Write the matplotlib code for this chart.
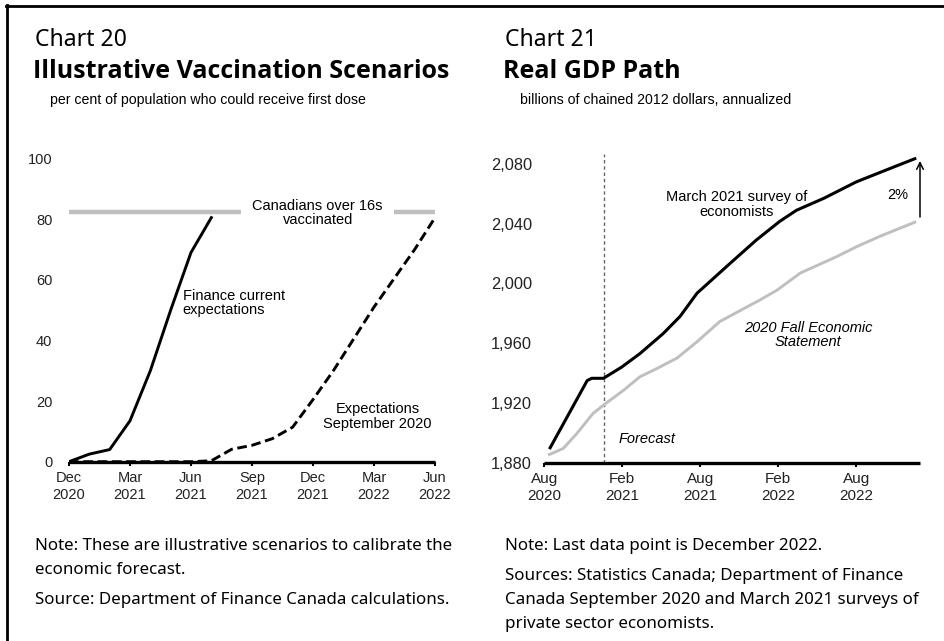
import matplotlib.pyplot as plt
from matplotlib.lines import Line2D

# ---- data: chart 20 (months from Dec 2020) ----
vac_months = [0, 1, 2, 3, 4, 5, 6, 7]
vac_finance = [0, 2.5, 4, 13.5, 30, 50, 69, 80.5]

sep_months = [0, 1, 2, 3, 4, 5, 6, 7, 8, 9, 10, 11, 12, 13, 14, 15, 16, 17, 18]
sep_expect = [0, 0, 0, 0, 0, 0, 0, 0.3, 4.1, 5.4, 7.6, 11.4, 20.5, 30, 40.5, 51, 60.5, 70, 80.5]

target_pct = 82.3
vac_ticks = [0, 3, 6, 9, 12, 15, 18]
vac_ticklabels = ['Dec\n2020', 'Mar\n2021', 'Jun\n2021', 'Sep\n2021',
                  'Dec\n2021', 'Mar\n2022', 'Jun\n2022']

# ---- data: chart 21 (months from Aug 2020) ----
mar_months = [0.45, 3.3, 3.65, 4.55, 5.95, 7.35, 9.15, 10.45, 11.75, 14.3,
              16.3, 18.1, 19.4, 21.5, 24.0, 26.6, 28.5]
mar_gdp = [1890, 1935, 1936.5, 1936.5, 1944, 1953, 1966.5, 1978, 1993.5, 2013.5,
           2029, 2041.5, 2049, 2057, 2068, 2077, 2083.5]

fes_months = [0.4, 1.45, 2.5, 3.75, 4.55, 6.1, 7.35, 8.65, 10.2, 11.75, 13.5,
              15.1, 16.6, 17.9, 19.7, 22.5, 24.0, 25.8, 28.5]
fes_gdp = [1885.5, 1889.5, 1899.5, 1913, 1918.5, 1928.5, 1937.5, 1943, 1950, 1961,
           1974.5, 1982, 1989, 1995.5, 2007, 2018, 2024.5, 2031.5, 2041]

gdp_ticks = [0, 6, 12, 18, 24]
gdp_ticklabels = ['Aug\n2020', 'Feb\n2021', 'Aug\n2021', 'Feb\n2022', 'Aug\n2022']
gdp_yticks = [1880, 1920, 1960, 2000, 2040, 2080]

W, H = 945, 641
fig = plt.figure(figsize=(W / 100, H / 100), dpi=100)
ARIAL = 'Liberation Sans'
UI = 'Noto Sans'
TITLE = 'Open Sans'
GREY = '#BFBFBF'


def px(x, y):
    return x / W, 1 - y / H


def style_axes(ax, size):
    for s in ['left', 'right', 'top']:
        ax.spines[s].set_visible(False)
    ax.spines['bottom'].set_linewidth(2.4)
    ax.spines['bottom'].set_capstyle('butt')
    ax.tick_params(axis='x', direction='out', length=3, width=1.5, pad=4,
                   labelsize=size, labelcolor='#222222')
    ax.tick_params(axis='y', length=0, labelsize=size, labelcolor='#222222')
    for lab in ax.get_xticklabels() + ax.get_yticklabels():
        lab.set_fontfamily(ARIAL)
    ax.set_facecolor('none')


# ---------------- chart 20 ----------------
ax1 = fig.add_axes([69 / W, (H - 461.7) / H, 366 / W, (461.7 - 158.5) / H])
ax1.plot([0, 18], [target_pct, target_pct], color=GREY, lw=3.2, solid_capstyle='butt')
ax1.plot(sep_months, sep_expect, color='black', lw=2.1, dashes=(3.3, 1.6))
ax1.plot(vac_months, vac_finance, color='black', lw=2.1)
ax1.set_xlim(0, 18)
ax1.set_ylim(0, 100)
ax1.set_xticks(vac_ticks)
ax1.set_xticklabels(vac_ticklabels)
ax1.set_yticks(range(0, 101, 20))
ax1.tick_params(axis='y', pad=12)
style_axes(ax1, 10.5)
ax1.text(12.23, 82, 'Canadians over 16s\nvaccinated', ha='center', va='center',
         fontsize=10.5, family=ARIAL, linespacing=1.05,
         bbox=dict(facecolor='white', edgecolor='none', pad=8))
ax1.text(5.6, 52.3, 'Finance current\nexpectations', ha='left', va='center',
         fontsize=10.5, family=ARIAL, linespacing=1.05)
ax1.text(15.18, 14.9, 'Expectations\nSeptember 2020', ha='center', va='center',
         fontsize=10.5, family=ARIAL, linespacing=1.05)

# ---------------- chart 21 ----------------
ax2 = fig.add_axes([544.3 / W, (H - 462.7) / H, 375.7 / W, (462.7 - 153.5) / H])
ax2.axvline(4.6, color='#666666', lw=1, dashes=(2.5, 2))
ax2.plot(fes_months, fes_gdp, color=GREY, lw=2.1)
ax2.plot(mar_months, mar_gdp, color='black', lw=2.2)
ax2.set_xlim(0, 28.9)
ax2.set_ylim(1880, 2087)
ax2.set_xticks(gdp_ticks)
ax2.set_xticklabels(gdp_ticklabels)
ax2.set_yticks(gdp_yticks)
ax2.set_yticklabels([f'{v:,}' for v in gdp_yticks])
ax2.tick_params(axis='y', pad=9)
style_axes(ax2, 11)
for lab in ax2.get_yticklabels():
    lab.set_fontsize(11.8)
ax2.annotate('', xy=(28.9, 2082), xytext=(28.9, 2044.5),
             arrowprops=dict(arrowstyle='->', lw=1.1, color='black',
                             shrinkA=0, shrinkB=0, mutation_scale=12),
             annotation_clip=False)
ax2.text(27.2, 2059, '2%', ha='center', va='center', fontsize=10.5, family=ARIAL)
ax2.text(14.8, 2053, 'March 2021 survey of\neconomists', ha='center', va='center',
         fontsize=10.5, family=ARIAL, linespacing=1.05)
ax2.text(20.3, 1965.5, '2020 Fall Economic\nStatement', ha='center', va='center',
         fontsize=10.5, family=ARIAL, style='italic', linespacing=1.05)
ax2.text(5.7, 1895.8, 'Forecast', ha='left', va='center',
         fontsize=10.5, family=ARIAL, style='italic')

# ---------------- titles ----------------
fig.text(*px(35, 40), 'Chart 20', fontsize=16.5, family=UI, va='center')
fig.text(*px(33, 72), 'Illustrative Vaccination Scenarios', fontsize=18,
         family=TITLE, weight='bold', va='center')
fig.text(*px(50, 100), 'per cent of population who could receive first dose',
         fontsize=10.2, family=ARIAL, va='center')

fig.text(*px(505, 40), 'Chart 21', fontsize=16.5, family=UI, va='center')
fig.text(*px(503, 72), 'Real GDP Path', fontsize=18, family=TITLE,
         weight='bold', va='center')
fig.text(*px(520, 100), 'billions of chained 2012 dollars, annualized',
         fontsize=10.2, family=ARIAL, va='center')

# ---------------- notes ----------------
note_kw = dict(fontsize=12.2, family=UI, va='center')
fig.text(*px(35, 546), 'Note: These are illustrative scenarios to calibrate the', **note_kw)
fig.text(*px(35, 570), 'economic forecast.', **note_kw)
fig.text(*px(35, 600), 'Source: Department of Finance Canada calculations.', **note_kw)

fig.text(*px(505, 546), 'Note: Last data point is December 2022.', **note_kw)
fig.text(*px(505, 576), 'Sources: Statistics Canada; Department of Finance', **note_kw)
fig.text(*px(505, 600), 'Canada September 2020 and March 2021 surveys of', **note_kw)
fig.text(*px(505, 624), 'private sector economists.', **note_kw)

# frame around the panel (top and left edges visible)
fig.add_artist(Line2D([6 / W, 1], [1 - 6 / H, 1 - 6 / H], color='black', lw=2))
fig.add_artist(Line2D([7 / W, 7 / W], [0, 1 - 5 / H], color='black', lw=2))

fig.savefig('out.png', dpi=100)
